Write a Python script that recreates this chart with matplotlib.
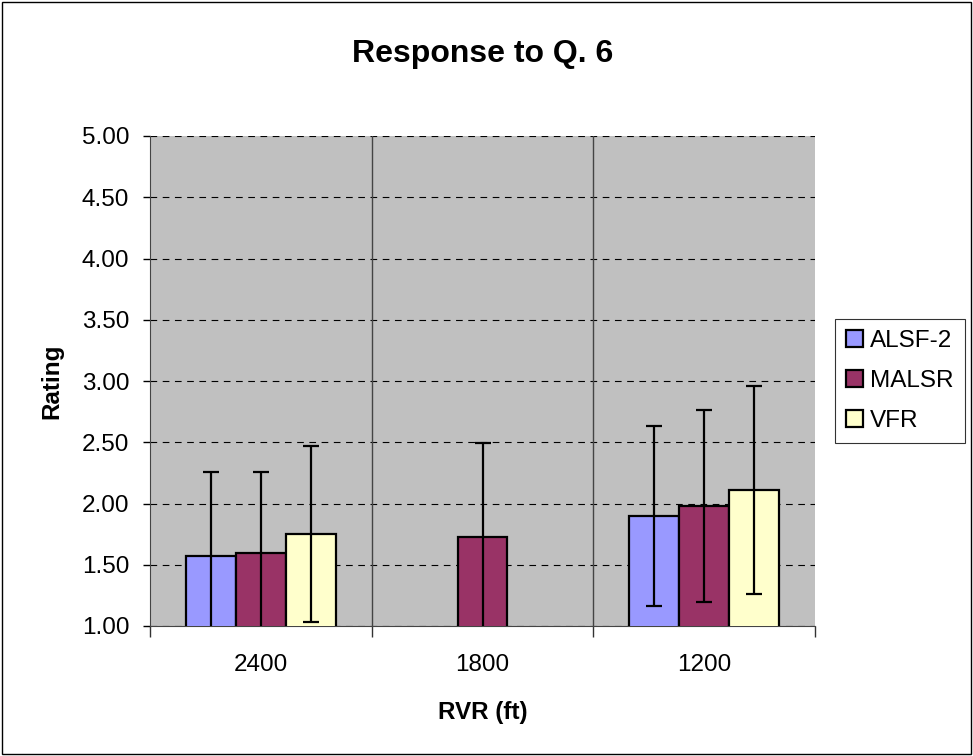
import numpy as np
import matplotlib.pyplot as plt

plt.rcParams['font.family'] = ['Liberation Sans', 'DejaVu Sans']

# data
rvr = ['2400', '1800', '1200']
series = ['ALSF-2', 'MALSR', 'VFR']
alsf2 = [1.57, np.nan, 1.90]
malsr = [1.60, 1.73, 1.98]
vfr = [1.75, np.nan, 2.11]
alsf2_err = [0.69, np.nan, 0.735]
malsr_err = [0.66, 0.76, 0.78]
vfr_err = [0.72, np.nan, 0.85]

colors = ['#9999FF', '#993366', '#FFFFCC']
values = [alsf2, malsr, vfr]
errors = [alsf2_err, malsr_err, vfr_err]

fig = plt.figure(figsize=(9.73, 7.56), dpi=100)
ax = fig.add_axes([150/973, 130/756, 665/973, 490/756])
ax.set_facecolor('#C0C0C0')

x = np.arange(len(rvr))
w = 0.225
for i in range(3):
    ax.bar(x + (i - 1)*w, values[i], w, bottom=0, color=colors[i],
           edgecolor='black', linewidth=1.6, label=series[i],
           yerr=errors[i], capsize=6,
           error_kw=dict(elinewidth=1.6, capthick=1.6, ecolor='black'), zorder=3)

fs = 17.5
ax.set_ylim(1.0, 5.0)
ax.set_xlim(-0.5, 2.5)
ax.set_yticks(np.arange(1.0, 5.01, 0.5))
ax.set_yticklabels(['%.2f' % v for v in np.arange(1.0, 5.01, 0.5)], fontsize=fs)
ax.set_xticks(x)
ax.set_xticklabels(rvr, fontsize=fs)
ax.tick_params(axis='x', length=0, pad=20)
ax.set_xticks([-0.5, 0.5, 1.5, 2.5], minor=True)
ax.tick_params(axis='x', which='minor', length=8, width=1, color='#333333')
ax.tick_params(axis='y', length=5, width=1, pad=10)

ax.grid(axis='y', color='black', linestyle=(0, (6, 5)), linewidth=0.8, zorder=1)
for b in [0.5, 1.5]:
    ax.axvline(b, color='#444444', linewidth=1, zorder=1)
ax.set_axisbelow(True)
for s in ['top', 'right']:
    ax.spines[s].set_visible(False)
ax.spines['left'].set_color('#444444')
ax.spines['bottom'].set_color('#444444')

ax.set_title('Response to Q. 6', fontsize=23, fontweight='bold', pad=53)
ax.set_xlabel('RVR (ft)', fontsize=fs, fontweight='bold', labelpad=18)
ax.set_ylabel('Rating', fontsize=fs, fontweight='bold', labelpad=13)

leg = ax.legend(loc='center left', bbox_to_anchor=(1.03, 0.5), fontsize=fs,
                frameon=True, fancybox=False, edgecolor='black',
                handlelength=0.7, handleheight=0.7, labelspacing=0.75,
                borderpad=0.45, handletextpad=0.3, borderaxespad=0)
leg.get_frame().set_linewidth(0.8)

fig.patches.append(plt.Rectangle((0.002, 0.002), 0.996, 0.996, transform=fig.transFigure,
                                 fill=False, edgecolor='black', linewidth=1))

plt.savefig('out.png', dpi=100)
